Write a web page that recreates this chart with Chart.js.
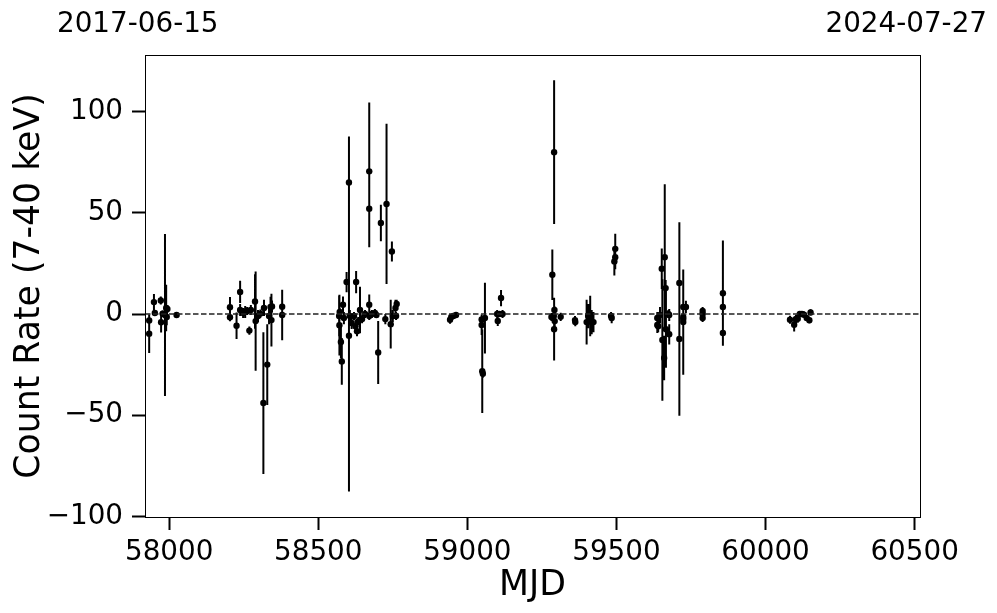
<!DOCTYPE html>
<html>
<head>
<meta charset="utf-8">
<script src="https://cdn.jsdelivr.net/npm/chart.js@4/dist/chart.umd.min.js"></script>
<style>
  html, body { margin: 0; padding: 0; background: #fff; }
  canvas { display: block; }
</style>
</head>
<body>
<canvas id="lc" width="997" height="613"></canvas>
<script>
// light curve: MJD, count rate (7-40 keV), 1-sigma error
const mjd = [
  57933, 57933, 57949, 57952, 57972, 57973, 57978, 57986, 57990, 57992, 57994, 58025,
  58204, 58204, 58226, 58238, 58238, 58248, 58255, 58262, 58269, 58274, 58288, 58290,
  58298, 58306, 58316, 58318, 58329, 58335, 58340, 58343, 58345, 58379, 58379,
  58570, 58571, 58572, 58576, 58579, 58583, 58586, 58595, 58603, 58603, 58606, 58612,
  58620, 58625, 58627, 58630, 58634, 58640, 58647, 58657, 58671, 58671, 58671, 58671,
  58680, 58690, 58695, 58701, 58710, 58725, 58729, 58743, 58747, 58750, 58759, 58761, 58763,
  58942, 58946, 58953, 58962, 59048, 59048, 59050, 59052, 59059, 59100, 59102, 59108, 59113, 59118,
  59282, 59285, 59290, 59291, 59291, 59292, 59293, 59313,
  59361, 59362, 59400, 59405, 59408, 59412, 59417, 59423,
  59482, 59484, 59493, 59496, 59496,
  59637, 59637, 59640, 59646, 59652, 59654, 59660, 59662, 59665, 59666, 59674, 59677, 59677,
  59711, 59711, 59724, 59724, 59724, 59724, 59733,
  59789, 59789, 59789, 59857, 59857, 59857,
  60082, 60096, 60102, 60108, 60115, 60122, 60129, 60138, 60147, 60151
];
const rate = [
  -3.2, -9.7, 5.9, 0.5, 6.7, -4.1, 0.2, -0.5, 3, -1.5, 2.5, -0.5,
  3.4, -1.6, -5.8, 10.9, 2, 0.5, 1, 1.5, -8.2, 2, 6.2, -3.5,
  -1, 0.2, -44, 3, -25, -1, 3.5, -3, 3.7, 3.6, -0.5,
  -1, -5.5, 1, -13.8, -23.4, 4.6, -2, 15.8, 65, -10.7, -1, -4.4,
  -1, -6, 15.8, -8.5, -3.5, 2, -2.5, 0, 70.5, 52, 4.6, -1,
  0, 0.5, -0.5, -19, 45, -2.5, 54.4, -5, 30.9, -1, 3, -1, 5,
  -2.8, -1.5, -1, -0.5, -2.7, -5.4, -28.3, -29.5, -2, 0, -3.4, 0, 7.9, 0,
  -1.5, 19.4, -1, 80, -7.5, 2, -3.5, -1.4,
  -3, -4, -4, -1, 0, -1, -4, -4,
  -1, -2, 26, 32.2, 28.1,
  -2, -5.4, -6, -0.5, 22.4, -12.8, -21.7, 28.1, 12.8, -7.5, 0, -10, -0.5,
  15.3, -12.3, 3.5, -1.5, -4, -2.5, 3.5,
  0, -2, 1.5, 3.5, 10.3, -9.4,
  -2.8, -5.3, -2.4, -2.3, 0, 0, -0.3, -2, -3.1, 0.8
];
const rateErr = [
  2.5, 9.5, 4, 1.5, 2, 5, 1.5, 40, 11.5, 4, 2, 1,
  5, 2, 6.5, 5.5, 3, 2.5, 3, 2, 2, 2.5, 13.5, 24.5,
  3, 2, 35, 4, 20, 4, 5, 13, 3, 4, 12.5,
  10, 15, 2, 8, 11.6, 4, 3, 5, 22.7, 77, 3, 3,
  2, 3, 5.5, 2.5, 2, 11.5, 2, 2, 34, 19, 5, 2,
  2, 2, 1.5, 15.6, 9, 2.5, 39.6, 12, 5, 3, 4, 2, 2,
  2, 1.5, 1.5, 1.5, 2.5, 5, 20.6, 2, 17.5, 2, 2.5, 1.5, 4, 2,
  2, 12.5, 2, 35.5, 15.5, 2, 3, 2,
  2, 2, 11, 6, 5, 10, 6, 5,
  2, 2.5, 7, 7.5, 6,
  3, 4, 3, 4, 10, 30, 11, 36, 4, 19, 2, 5, 3,
  30, 38, 3, 2, 26, 2, 3,
  2, 2, 2, 3, 26, 6,
  2, 3.3, 2, 2, 1.5, 1.5, 1.5, 1.5, 1.5, 1.5
];

const xRange = [57919, 60518];   // 2017-06-15 .. 2024-07-27
const yRange = [-100.3, 128];
const xTicks = [58000, 58500, 59000, 59500, 60000, 60500];
const yTicks = [-100, -50, 0, 50, 100];
const dateLabels = ['2017-06-15', '2024-07-27'];

const points = mjd.map((x, i) => ({ x, y: rate[i] }));
const errBars = [];
mjd.forEach((x, i) => {
  errBars.push({ x, y: rate[i] - rateErr[i] });
  errBars.push({ x, y: rate[i] + rateErr[i] });
  errBars.push({ x, y: null });
});

const FONT = 'DejaVu Sans';

const frameAndDates = {
  id: 'frameAndDates',
  afterDraw(chart) {
    const { ctx, chartArea: a } = chart;
    ctx.save();
    ctx.strokeStyle = '#000';
    ctx.lineWidth = 1;
    ctx.strokeRect(a.left + 0.5, a.top + 0.5, a.right - a.left, a.bottom - a.top);
    ctx.fillStyle = '#000';
    ctx.font = '27.8px "' + FONT + '"';
    ctx.textBaseline = 'alphabetic';
    ctx.textAlign = 'left';
    ctx.fillText(dateLabels[0], 57, 32);
    ctx.textAlign = 'right';
    ctx.fillText(dateLabels[1], 987, 32);
    ctx.restore();
  }
};

new Chart(document.getElementById('lc'), {
  type: 'scatter',
  data: {
    datasets: [
      {
        data: [{ x: xRange[0], y: 0 }, { x: xRange[1], y: 0 }],
        showLine: true,
        borderColor: '#222',
        borderWidth: 1.5,
        borderDash: [5.5, 2.5],
        pointRadius: 0
      },
      {
        data: errBars,
        showLine: true,
        spanGaps: false,
        borderColor: '#000',
        borderWidth: 2,
        pointRadius: 0
      },
      {
        data: points,
        backgroundColor: '#000',
        borderColor: '#000',
        pointRadius: 3.2,
        borderWidth: 0
      }
    ]
  },
  options: {
    responsive: false,
    animation: false,
    devicePixelRatio: 1,
    layout: { padding: { top: 55, right: 77, left: 0, bottom: 0 } },
    plugins: { legend: { display: false }, tooltip: { enabled: false } },
    scales: {
      x: {
        type: 'linear',
        min: xRange[0],
        max: xRange[1],
        afterBuildTicks: (s) => { s.ticks = xTicks.map((v) => ({ value: v })); },
        afterFit: (s) => { s.height = 96; },
        border: { display: false },
        grid: { drawOnChartArea: false, drawTicks: true, tickLength: 13, tickWidth: 2, tickColor: '#000' },
        ticks: {
          autoSkip: false,
          maxRotation: 0,
          padding: 6,
          color: '#000',
          font: { family: FONT, size: 27.8 },
          callback: (v) => String(v)
        },
        title: {
          display: true,
          text: 'MJD',
          color: '#000',
          font: { family: FONT, size: 34.7 },
          padding: { top: 0, bottom: 6 }
        }
      },
      y: {
        min: yRange[0],
        max: yRange[1],
        afterBuildTicks: (s) => { s.ticks = yTicks.map((v) => ({ value: v })); },
        afterFit: (s) => { s.width = 145; },
        border: { display: false },
        grid: { drawOnChartArea: false, drawTicks: true, tickLength: 13, tickWidth: 2, tickColor: '#000' },
        ticks: {
          autoSkip: false,
          padding: 9,
          color: '#000',
          font: { family: FONT, size: 27.8 },
          callback: (v) => String(v).replace('-', '\u2212')
        },
        title: {
          display: true,
          text: 'Count Rate (7-40 keV)',
          color: '#000',
          font: { family: FONT, size: 34.7 },
          padding: { top: 9, bottom: 0 }
        }
      }
    }
  },
  plugins: [frameAndDates]
});
</script>
</body>
</html>
